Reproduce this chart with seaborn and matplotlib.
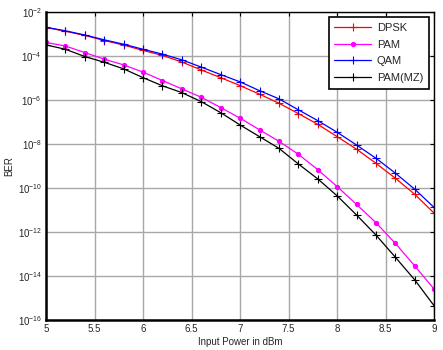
import numpy as np
import pandas as pd
import matplotlib
matplotlib.use("Agg")
import matplotlib.pyplot as plt
import matplotlib.ticker as mticker
import seaborn as sns

power = [5.0, 5.2, 5.4, 5.6, 5.8, 6.0, 6.2, 6.4, 6.6, 6.8, 7.0,
         7.2, 7.4, 7.6, 7.8, 8.0, 8.2, 8.4, 8.6, 8.8, 9.0]

# log10(BER)
dpsk_exp = [-2.71, -2.88, -3.07, -3.30, -3.51, -3.75, -3.98, -4.28, -4.64, -4.99, -5.35,
            -5.74, -6.15, -6.62, -7.11, -7.67, -8.24, -8.88, -9.56, -10.29, -11.15]
pam_exp = [-3.39, -3.55, -3.85, -4.15, -4.41, -4.74, -5.12, -5.50, -5.88, -6.35, -6.83,
           -7.36, -7.88, -8.47, -9.17, -9.94, -10.75, -11.58, -12.52, -13.55, -14.60]
qam_exp = [-2.70, -2.86, -3.05, -3.27, -3.47, -3.70, -3.92, -4.18, -4.51, -4.85, -5.18,
           -5.58, -5.95, -6.45, -6.94, -7.47, -8.05, -8.65, -9.33, -10.06, -10.89]
pammz_exp = [-3.50, -3.70, -4.03, -4.29, -4.59, -4.99, -5.36, -5.67, -6.08, -6.58, -7.14,
             -7.67, -8.20, -8.91, -9.59, -10.36, -11.23, -12.14, -13.15, -14.18, -15.36]

series = ["DPSK", "PAM", "QAM", "PAM(MZ)"]
colors = ["#ff0000", "#ff00ff", "#0000ff", "#000000"]
markers = ["+", ".", "+", "+"]

sns.set_style("white")
plt.rcParams["font.family"] = ["Liberation Sans", "DejaVu Sans"]

rows = []
for name, exps in zip(series, [dpsk_exp, pam_exp, qam_exp, pammz_exp]):
    for p, e in zip(power, exps):
        rows.append({"power": p, "BER": 10.0 ** e, "scheme": name})
df = pd.DataFrame(rows)

fig = plt.figure(figsize=(4.43, 3.5), dpi=100)
ax = fig.add_axes([0.104, 0.086, 0.876, 0.880])

for name, c, m in zip(series, colors, markers):
    sub = df[df["scheme"] == name]
    ms = 6 if m == "." else 5.5
    sns.lineplot(data=sub, x="power", y="BER", color=c, marker=m, markersize=ms,
                 markeredgecolor=c, markerfacecolor=c, markeredgewidth=0.8,
                 linewidth=0.9, label=name, ax=ax)

ax.set_yscale("log")
ax.set_xlim(5, 9)
ax.set_ylim(1e-16, 1e-2)
ax.set_xticks(np.arange(5, 9.01, 0.5))
ax.xaxis.set_major_formatter(mticker.FuncFormatter(lambda v, p: "%g" % v))
ax.yaxis.set_major_locator(mticker.FixedLocator([10.0 ** k for k in range(-16, -1, 2)]))
ax.yaxis.set_minor_locator(mticker.NullLocator())
ax.grid(True, which="major", color="#a8a8a8", linewidth=1.0)
ax.tick_params(axis="both", which="major", direction="in", length=3, width=0.8,
               top=True, right=True, labelsize=7, pad=3, color="black")
for s in ax.spines.values():
    s.set_color("black")
    s.set_linewidth(1.0)
ax.spines["left"].set_linewidth(1.8)
ax.spines["bottom"].set_linewidth(1.8)

ax.set_xlabel("Input Power in dBm", fontsize=7, labelpad=2)
ax.set_ylabel("BER", fontsize=7, labelpad=2)

leg = ax.legend(loc="upper right", fontsize=8, frameon=True, fancybox=False,
                edgecolor="black", framealpha=1, borderpad=0.5, handlelength=3.3,
                labelspacing=0.6, handletextpad=0.5, borderaxespad=0.5)
leg.get_frame().set_linewidth(1.2)

fig.savefig("out.png", dpi=100)
